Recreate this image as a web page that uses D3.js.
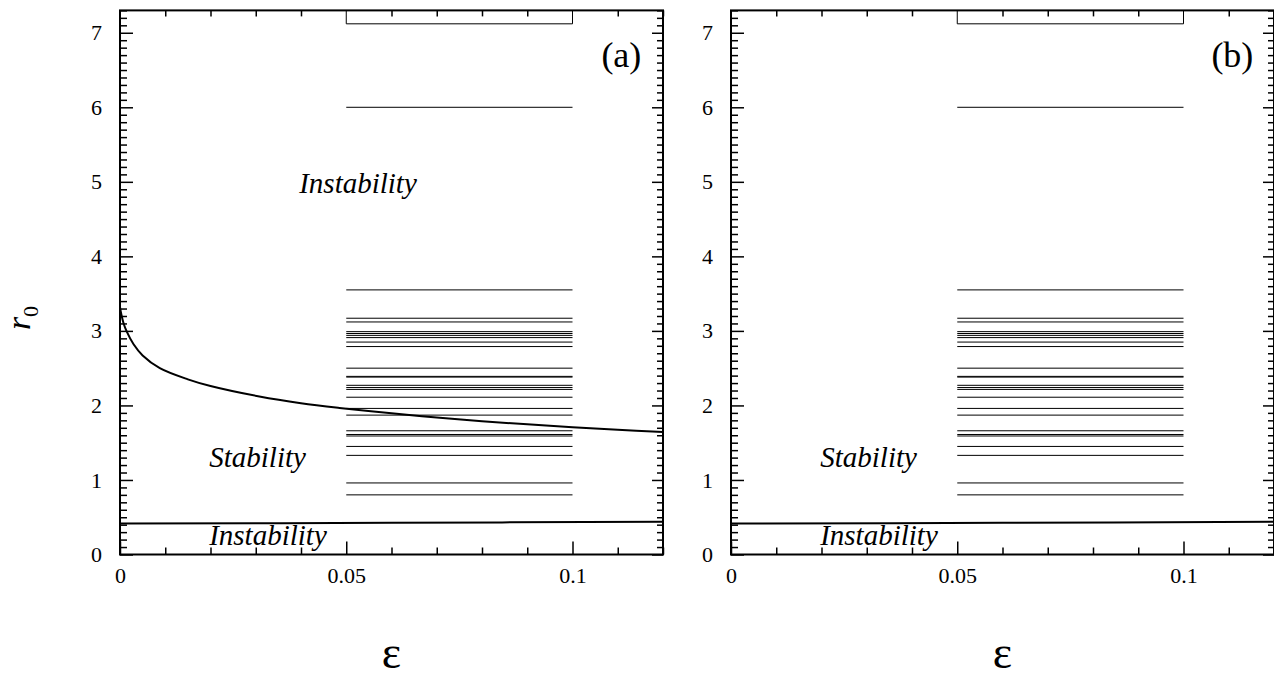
<!DOCTYPE html>
<html>
<head>
<meta charset="utf-8">
<script src="https://cdn.jsdelivr.net/npm/d3@7"></script>
<style>
  html, body { margin: 0; padding: 0; background: #fff; }
  svg { display: block; font-family: "Liberation Serif", "Times New Roman", serif; }
  svg text { font-family: "Liberation Serif", "Times New Roman", serif; fill: #000; }
</style>
</head>
<body>
<svg width="1274" height="677"></svg>
<script>
// levels (r0) of the short horizontal lines, eps from 0.05 to 0.1
const levels = [6.0, 3.55, 3.17, 3.12, 2.99, 2.965, 2.94, 2.91, 2.85, 2.79,
    2.50, 2.39, 2.38, 2.27, 2.24, 2.215, 2.11, 1.96, 1.87,
    1.66, 1.61, 1.59, 1.45, 1.33, 0.96, 0.80];
const bracketLevel = 7.12;
const levelRange = [0.05, 0.1];

// upper stability boundary, panel (a) only
const curveEps = [0, 0.0003, 0.0008, 0.0015, 0.003, 0.005, 0.0088, 0.015, 0.02, 0.0308,
    0.04, 0.0485, 0.06, 0.07, 0.08, 0.09, 0.1, 0.11, 0.12];
const curveR = [3.32, 3.22, 3.10, 2.99, 2.82, 2.67, 2.50, 2.35, 2.26, 2.12,
    2.03, 1.967, 1.895, 1.837, 1.789, 1.746, 1.708, 1.674, 1.643];

// lower boundary, both panels
const lowerEps = [0, 0.06, 0.12];
const lowerR = [0.415, 0.425, 0.44];

const xMajor = [0, 0.05, 0.1];
const yMajor = [0, 1, 2, 3, 4, 5, 6, 7];

const svg = d3.select("svg");
const top0 = 10.4, bottom0 = 554.5;

function drawPanel(x0, x1, tag, withCurve) {
    const g = svg.append("g");
    const x = d3.scaleLinear().domain([0, 0.12]).range([x0, x1]);
    const y = d3.scaleLinear().domain([0, 7.3]).range([bottom0, top0]);

    const xMinor = d3.range(0, 0.1201, 0.01).map(v => +v.toFixed(2)).filter(v => !xMajor.includes(v));
    const yMinor = d3.range(0, 7.31, 0.1).map(v => +v.toFixed(1)).filter(v => !Number.isInteger(v));

    const axes = [
        [d3.axisLeft(y).tickValues(yMajor).tickSize(-13).tickPadding(18).tickFormat(d => d), `translate(${x0},0)`],
        [d3.axisLeft(y).tickValues(yMinor).tickSize(-7).tickFormat(""), `translate(${x0},0)`],
        [d3.axisRight(y).tickValues(yMajor).tickSize(-11).tickFormat(""), `translate(${x1},0)`],
        [d3.axisRight(y).tickValues(yMinor).tickSize(-6).tickFormat(""), `translate(${x1},0)`],
        [d3.axisBottom(x).tickValues(xMajor).tickSize(-13).tickPadding(13).tickFormat(d => d), `translate(0,${bottom0})`],
        [d3.axisBottom(x).tickValues(xMinor).tickSize(-7).tickFormat(""), `translate(0,${bottom0})`],
        [d3.axisTop(x).tickValues(xMinor).tickSize(-6).tickFormat(""), `translate(0,${top0})`]
    ];
    axes.forEach(([ax, tr]) => {
        const a = g.append("g").attr("transform", tr).call(ax)
            .attr("font-family", "Liberation Serif").attr("font-size", 22);
        a.select(".domain").remove();
        a.selectAll("line").attr("stroke", "#000").attr("stroke-width", 1.5);
        a.selectAll("text").attr("fill", "#000");
    });

    // level lines
    g.selectAll(".level").data(levels).enter().append("line")
        .attr("x1", x(levelRange[0])).attr("x2", x(levelRange[1]))
        .attr("y1", d => y(d)).attr("y2", d => y(d))
        .attr("stroke", "#000").attr("stroke-width", 1);

    // bracket at top
    g.append("path")
        .attr("d", `M${x(levelRange[0])},${y(7.3)}V${y(bracketLevel)}H${x(levelRange[1])}V${y(7.3)}`)
        .attr("fill", "none").attr("stroke", "#000").attr("stroke-width", 1);

    const line = d3.line().x(d => x(d[0])).y(d => y(d[1])).curve(d3.curveCatmullRom.alpha(0.5));
    g.append("path").datum(d3.zip(lowerEps, lowerR)).attr("d", line)
        .attr("fill", "none").attr("stroke", "#000").attr("stroke-width", 2);
    if (withCurve) {
        g.append("path").datum(d3.zip(curveEps, curveR)).attr("d", line)
            .attr("fill", "none").attr("stroke", "#000").attr("stroke-width", 2);
    }

    // frame
    g.append("rect").attr("x", x0).attr("y", top0)
        .attr("width", x1 - x0).attr("height", bottom0 - top0)
        .attr("fill", "none").attr("stroke", "#000").attr("stroke-width", 2);

    const label = (txt, ex, ry, size, italic) => g.append("text")
        .attr("x", x(ex)).attr("y", y(ry)).attr("text-anchor", "middle")
        .style("font-size", size + "px").style("font-style", italic ? "italic" : "normal")
        .text(txt);

    if (withCurve) label("Instability", 0.0526, 4.85, 29, true);
    label("Stability", 0.0304, 1.175, 29, true);
    label("Instability", 0.0327, 0.123, 29, true);
    label(tag, 0.1108, 6.54, 36, false);

    // x title
    g.append("text").attr("x", (x0 + x1) / 2).attr("y", 668).attr("text-anchor", "middle")
        .style("font-size", "46px").text("ε");
}

drawPanel(120, 663, "(a)", true);
drawPanel(731, 1274, "(b)", false);

// y title
const yt = svg.append("text").attr("transform", "translate(30,318) rotate(-90)")
    .attr("text-anchor", "middle");
yt.append("tspan").style("font-size", "34px").style("font-style", "italic").text("r");
yt.append("tspan").attr("dy", 8).style("font-size", "22px").text("0");
</script>
</body>
</html>
